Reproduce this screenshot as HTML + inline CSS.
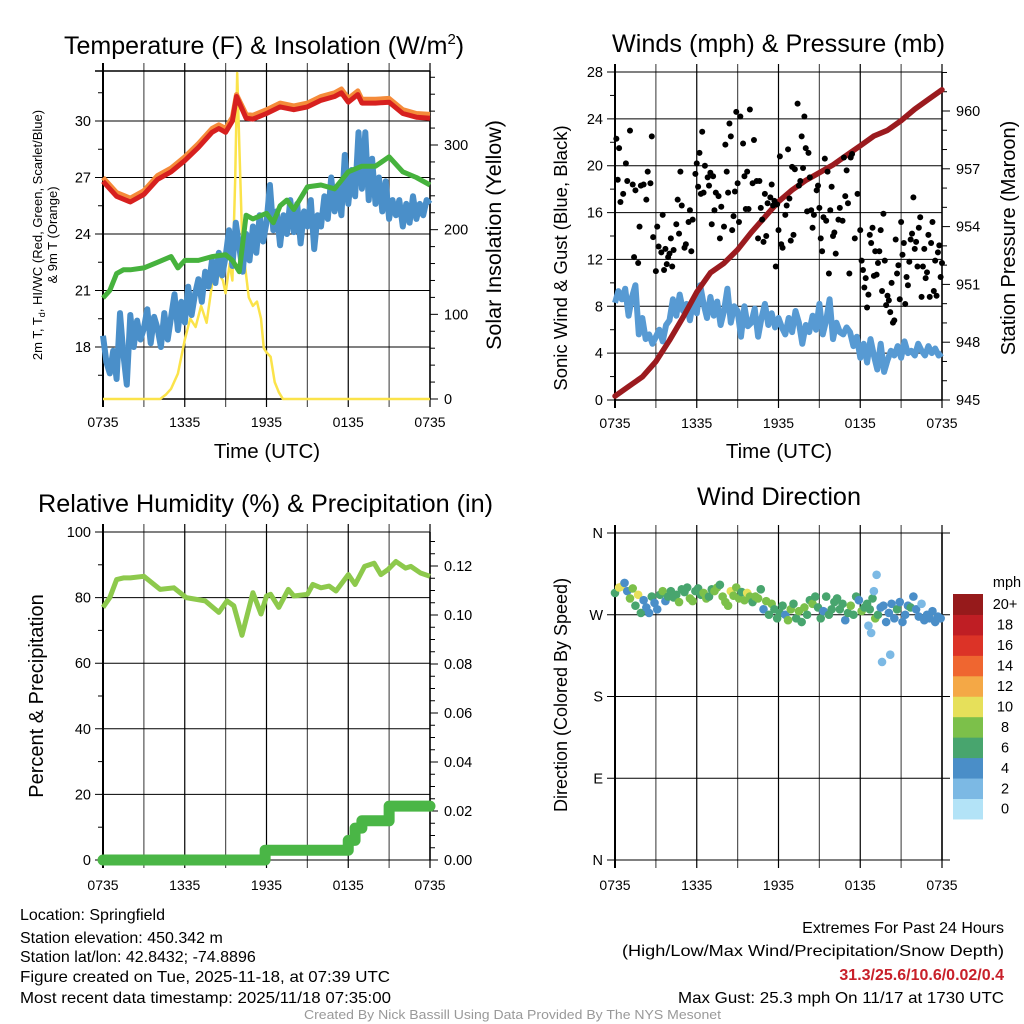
<!DOCTYPE html>
<html><head><meta charset="utf-8">
<style>
html,body{margin:0;padding:0;background:#fff;}
svg{display:block;font-family:"Liberation Sans",sans-serif;}
</style></head>
<body>
<svg id="chart" width="1024" height="1024" viewBox="0 0 1024 1024" xmlns="http://www.w3.org/2000/svg">
<g id="layer"></g>
<g font-size="25" fill="#000">
<text x="64" y="54">Temperature (F) &amp; Insolation (W/m<tspan dy="-10" font-size="15">2</tspan><tspan dy="10">)</tspan></text>
<text x="612" y="52" textLength="333" lengthAdjust="spacingAndGlyphs">Winds (mph) &amp; Pressure (mb)</text>
<text x="38" y="512" textLength="455" lengthAdjust="spacingAndGlyphs">Relative Humidity (%) &amp; Precipitation (in)</text>
<text x="697" y="505" textLength="164" lengthAdjust="spacingAndGlyphs">Wind Direction</text>
</g>
<g fill="#000">
<text x="267" y="458" font-size="20.5" text-anchor="middle">Time (UTC)</text>
<text x="779" y="458" font-size="20.5" text-anchor="middle">Time (UTC)</text>
<text transform="translate(42,235) rotate(-90)" font-size="13" text-anchor="middle">2m T, T<tspan font-size="9" dy="3">d</tspan><tspan dy="-3">, HI/WC (Red, Green, Scarlet/Blue)</tspan></text>
<text transform="translate(57,235) rotate(-90)" font-size="13" text-anchor="middle">&amp; 9m T (Orange)</text>
<text transform="translate(501,235) rotate(-90)" font-size="21.5" text-anchor="middle">Solar Insolation (Yellow)</text>
<text transform="translate(567,258) rotate(-90)" font-size="18.5" text-anchor="middle">Sonic Wind &amp; Gust (Blue, Black)</text>
<text transform="translate(1015,238) rotate(-90)" font-size="20" text-anchor="middle">Station Pressure (Maroon)</text>
<text transform="translate(43,696) rotate(-90)" font-size="20" text-anchor="middle">Percent &amp; Precipitation</text>
<text transform="translate(567,695) rotate(-90)" font-size="18" text-anchor="middle">Direction (Colored By Speed)</text>
</g>
<g font-size="16" fill="#000">
<text x="20" y="920">Location: Springfield</text>
<text x="20" y="943">Station elevation: 450.342 m</text>
<text x="20" y="962">Station lat/lon: 42.8432; -74.8896</text>
<text x="20" y="982" textLength="370" lengthAdjust="spacingAndGlyphs">Figure created on Tue, 2025-11-18, at 07:39 UTC</text>
<text x="20" y="1003" textLength="371" lengthAdjust="spacingAndGlyphs">Most recent data timestamp: 2025/11/18 07:35:00</text>
<g text-anchor="end">
<text x="1004" y="933">Extremes For Past 24 Hours</text>
<text x="622" y="956" text-anchor="start" textLength="382" lengthAdjust="spacingAndGlyphs">(High/Low/Max Wind/Precipitation/Snow Depth)</text>
<text x="1004" y="980" fill="#c8202a" font-weight="bold">31.3/25.6/10.6/0.02/0.4</text>
<text x="678" y="1003" text-anchor="start" textLength="326" lengthAdjust="spacingAndGlyphs">Max Gust: 25.3 mph On 11/17 at 1730 UTC</text>
</g>
<text x="304" y="1019" font-size="12.5" fill="#999" textLength="417" lengthAdjust="spacingAndGlyphs">Created By Nick Bassill Using Data Provided By The NYS Mesonet</text>
</g>
</svg>
<script>
// ---------- data ----------
const timeTickLabels = ["0735","1335","1935","0135","0735"];
const tempHours = [0,1,2,3,4,5,6,7,8,8.5,9,9.5,9.8,10.5,11,12,13,14,15,16,17,17.5,18,18.7,19,20,21,22,23,24];
const tempRed = [26.8,26.0,25.7,26.1,26.9,27.3,27.9,28.6,29.4,29.6,29.4,30.0,31.3,30.15,30.1,30.4,30.75,30.6,30.75,31.1,31.3,31.5,31.0,31.4,30.95,30.95,31.0,30.4,30.2,30.15];
const tempOrange = [27.0,26.2,25.9,26.3,27.1,27.5,28.1,28.8,29.6,29.8,29.6,30.2,31.4,30.35,30.3,30.6,30.95,30.8,30.95,31.3,31.5,31.7,31.2,31.6,31.15,31.15,31.2,30.6,30.4,30.35];
const dewHours = [0,0.5,1,1.5,2,3,4,5,5.5,6,7,8,9,9.5,10,10.5,11,12,12.5,13,13.5,14,15,16,17,18,19,20,21,22,23,24];
const dewVals = [20.6,21.0,21.9,22.1,22.1,22.2,22.5,22.8,22.2,22.6,22.6,22.8,22.9,22.6,22.0,25.0,24.8,25.1,24.6,25.5,25.8,25.3,26.5,26.6,26.4,27.3,27.6,27.6,28.1,27.3,27.0,26.6];
const wcHours = [0,0.25,0.5,0.75,1,1.25,1.5,1.75,2,2.25,2.5,2.75,3,3.25,3.5,3.75,4,4.25,4.5,4.75,5,5.25,5.5,5.75,6,6.25,6.5,6.75,7,7.25,7.5,7.75,8,8.25,8.5,8.75,9,9.25,9.5,9.75,10,10.25,10.5,10.75,11,11.25,11.5,11.75,12,12.25,12.5,12.75,13,13.25,13.5,13.75,14,14.25,14.5,14.75,15,15.25,15.5,15.75,16,16.25,16.5,16.75,17,17.25,17.5,17.75,18,18.25,18.5,18.75,19,19.25,19.5,19.75,20,20.25,20.5,20.75,21,21.25,21.5,21.75,22,22.25,22.5,22.75,23,23.25,23.5,23.75,24];
const wcVals = [18.6,17.2,16.6,17.8,16.3,19.8,17.6,16.0,19.7,18.0,19.4,18.4,19.0,20.0,18.2,19.6,19.0,18.0,19.8,18.4,19.6,20.8,18.9,20.4,19.3,21.2,19.7,20.8,21.6,20.4,22.0,21.2,22.6,21.4,23.0,21.8,22.8,24.2,22.3,24.6,23.3,22.0,24.0,22.6,24.4,23.0,25.0,23.6,24.6,26.6,24.2,25.2,23.4,25.0,24.0,25.8,24.1,25.6,23.5,25.2,24.4,25.8,23.2,25.0,24.4,26.0,24.8,27.0,25.2,26.4,25.0,28.2,25.6,27.4,26.0,29.4,26.4,29.4,25.8,28.0,25.6,27.0,25.2,26.8,24.8,25.8,25.0,25.8,24.4,25.6,24.6,26.0,24.8,25.6,25.0,25.8,25.6];
const solHours = [0,4.2,4.6,5,5.5,6,6.4,6.8,7.2,7.6,8,8.4,8.8,9,9.3,9.5,9.7,9.85,10.0,10.2,10.4,10.7,11,11.3,11.6,11.8,12,12.3,12.6,12.9,13.2,24];
const solVals = [0,0,5,12,30,70,95,85,110,90,135,150,140,125,160,140,260,385,300,195,160,120,110,115,95,60,55,50,20,8,0,0];
const windHours = wcHours;
const windVals = [8.3,9.3,8.6,9.5,7.2,8.8,9.8,5.6,7.0,5.2,5.6,4.8,5.4,6.0,5.0,6.4,6.8,8.6,7.2,9.0,7.6,8.2,6.8,8.5,7.4,9.8,8.2,7.0,8.8,7.2,8.4,6.4,7.6,9.5,6.6,8.0,7.6,5.4,8.0,6.3,6.6,7.8,5.4,7.0,8.2,6.4,7.4,6.2,7.0,6.2,5.6,7.0,5.8,7.6,6.6,4.8,6.4,5.8,7.2,6.0,8.2,5.6,6.8,8.6,5.2,6.6,5.8,5.6,6.2,5.8,4.6,5.4,3.6,4.8,3.2,5.2,3.8,2.6,4.8,2.4,3.4,4.2,3.8,4.6,3.6,5.0,4.0,4.2,3.8,4.8,4.2,3.8,4.6,4.0,4.4,3.8,4.0];
const presHours = [0,1,2,3,4,5,6,7,8,9,10,11,12,13,14,15,16,17,18,19,20,21,22,23,24];
const presVals = [945.2,945.7,946.2,947.0,948.1,949.3,950.6,951.6,952.1,952.8,953.7,954.5,955.3,955.9,956.4,956.8,957.2,957.7,958.2,958.7,959.0,959.5,960.1,960.6,961.1];
const gustHours = [0.1,0.2,0.3,0.4,0.6,0.8,0.9,1.1,1.3,1.4,1.5,1.7,1.8,1.9,2.1,2.3,2.4,2.6,2.7,2.8,3.0,3.1,3.2,3.4,3.5,3.6,3.7,3.8,3.9,4.0,4.1,4.2,4.3,4.5,4.6,4.7,4.8,4.9,5.1,5.2,5.4,5.5,5.6,5.7,5.9,6.0,6.1,6.2,6.3,6.4,6.5,6.6,6.8,6.9,7.0,7.1,7.2,7.3,7.4,7.6,7.7,7.8,8.0,8.1,8.2,8.3,8.4,8.5,8.6,8.7,8.8,8.9,9.0,9.1,9.2,9.4,9.5,9.6,9.7,9.8,9.9,10.1,10.2,10.4,10.5,10.6,10.7,10.8,10.9,11.0,11.1,11.2,11.4,11.5,11.6,11.7,11.8,11.9,12.0,12.1,12.2,12.3,12.5,12.6,12.7,12.8,12.9,13.0,13.1,13.2,13.4,13.5,13.6,13.7,13.8,13.9,14.0,14.1,14.2,14.3,14.4,14.5,14.6,14.8,14.9,15.0,15.1,15.2,15.3,15.4,15.5,15.6,15.7,15.8,15.9,16.0,16.1,16.2,16.4,16.5,16.7,16.8,16.9,17.0,17.1,17.2,17.3,17.4,17.6,17.8,18.0,18.1,18.2,18.3,18.4,18.5,18.6,18.7,18.8,18.9,19.0,19.1,19.2,19.3,19.4,19.5,19.6,19.7,19.8,19.9,20.0,20.1,20.2,20.3,20.4,20.5,20.6,20.7,20.8,20.9,21.0,21.1,21.2,21.3,21.4,21.5,21.6,21.7,21.8,21.9,22.0,22.1,22.2,22.3,22.4,22.5,22.6,22.7,22.8,22.9,23.0,23.1,23.2,23.3,23.4,23.5,23.6,23.7,23.8,23.9,24.0];
const gustVals = [22.3,18.8,21.5,16.9,17.6,20.2,18.7,23.0,18.4,12.2,17.9,11.7,14.8,18.3,18.4,17.1,19.5,18.5,22.5,13.9,11.0,14.8,13.1,12.6,15.8,11.1,12.9,11.6,12.2,12.5,13.8,11.4,12.8,15.0,17.1,14.2,19.5,16.6,13.0,13.3,15.2,16.2,12.7,15.4,19.3,20.2,18.2,21.1,17.6,22.9,17.7,20.0,19.0,18.3,19.4,15.0,19.1,16.2,17.7,17.4,13.8,16.5,14.8,21.8,19.5,17.7,23.6,22.5,14.5,15.7,17.8,24.6,18.5,15.2,24.2,21.9,19.1,16.3,19.5,16.3,24.8,18.5,22.2,18.7,13.8,18.7,16.4,15.4,13.5,17.6,14.0,16.8,17.3,18.4,16.6,17.0,11.4,16.7,14.5,20.8,13.3,13.0,15.8,16.6,21.4,17.2,13.6,19.9,14.1,19.7,25.3,18.3,18.7,22.5,19.8,24.2,21.5,16.1,21.1,19.0,16.2,14.7,15.8,17.9,18.3,16.4,13.8,12.7,15.6,20.6,15.3,19.5,10.8,16.2,18.2,14.0,14.3,12.5,15.4,16.4,15.3,20.7,17.4,19.6,16.8,10.8,20.7,21.0,13.8,17.6,14.5,11.9,11.1,9.6,10.4,7.9,9.0,14.1,13.4,14.7,10.6,12.7,10.7,11.7,12.7,14.5,9.3,15.9,11.9,8.1,8.9,8.5,7.5,10.0,6.6,6.8,13.7,10.8,11.5,8.6,15.2,12.4,13.4,8.2,10.5,9.8,11.8,13.7,14.2,17.3,12.9,13.5,11.4,14.7,15.6,8.8,11.4,12.9,10.4,10.9,14.1,8.8,13.4,15.2,9.3,11.9,8.9,12.6,13.2,10.5,11.7];
const dirHours = [0,0.3,0.5,0.7,0.9,1.1,1.3,1.5,1.7,1.9,2.1,2.3,2.5,2.7,2.9,3.1,3.3,3.5,3.7,3.9,4.1,4.3,4.5,4.7,4.9,5.1,5.3,5.5,5.7,5.9,6.1,6.3,6.5,6.7,6.9,7.1,7.3,7.5,7.7,7.9,8.1,8.3,8.5,8.7,8.9,9.1,9.3,9.5,9.7,9.9,10.1,10.3,10.5,10.7,10.9,11.1,11.3,11.5,11.7,11.9,12.1,12.3,12.5,12.7,12.9,13.1,13.3,13.5,13.7,13.9,14.1,14.3,14.5,14.7,14.9,15.1,15.3,15.5,15.7,15.9,16.1,16.3,16.5,16.7,16.9,17.1,17.3,17.5,17.7,17.9,18.1,18.3,18.5,18.7,18.9,19.1,19.3,19.5,19.7,19.9,20.1,20.3,20.5,20.7,20.9,21.1,21.3,21.5,21.7,21.9,22.1,22.3,22.5,22.7,22.9,23.1,23.3,23.5,23.7,23.9,18.6,18.8,19.2,19.6,20.2,19.0];
const dirDeg = [294,300,301,305,296,288,299,280,292,272,286,278,272,290,283,276,292,296,285,290,296,289,292,284,298,295,300,288,285,296,299,292,294,288,290,298,296,300,303,290,284,280,296,291,300,288,295,286,294,290,284,290,288,298,276,285,270,282,276,266,272,280,270,264,276,282,266,274,262,278,270,286,282,290,278,266,274,290,270,276,284,288,276,282,264,272,280,270,290,286,274,278,282,276,288,266,270,278,280,262,272,282,266,276,284,262,270,280,278,290,276,268,282,264,270,266,274,262,268,266,258,250,314,218,226,296];
const dirSpeed = [6,10,10,4,4,8,9,6,10,6,4,4,4,6,4,4,6,8,4,6,6,6,6,8,6,6,6,8,8,6,6,6,8,8,6,6,8,8,6,8,8,8,10,8,8,8,6,8,10,8,6,8,8,6,4,8,6,8,6,6,6,6,4,8,8,6,6,8,6,8,6,6,8,6,6,6,4,6,6,6,6,6,6,6,4,6,8,6,6,4,8,6,6,6,6,8,6,4,4,4,4,4,4,6,4,4,4,4,6,4,4,4,2,4,4,4,4,4,4,4,2,2,2,2,2,2];
const rhHours = [0,0.5,1,1.5,2,3,4.2,5.2,6.1,7.5,8.5,9.1,9.6,10.2,11.0,11.6,12,12.3,12.9,13.6,14,15,15.4,16,16.6,17.1,18,18.5,19.2,19.9,20.4,20.9,21.5,22.2,22.6,23.3,24];
const rhVals = [77,80,85.5,86,86,86.5,82.5,83,80,79,75.5,79,77.5,68.5,81.5,75,80.5,81,77,82.5,80.5,81,84,83,83.5,82,87,84,89.5,90.5,87,88.5,91,89,89.5,87.5,86.5];
const precipHours = [0,11.9,18.0,18.5,19.0,21.0,24];
const precipVals = [0,0.004,0.008,0.013,0.016,0.022,0.022];
const speedBins = ["0","2","4","6","8","10","12","14","16","18","20+"];
const speedColors = ["#b3e3f7","#7cb9e4","#4a8ec8","#48a56e","#7cc04a","#e6e05a","#f4a846","#ef6630","#dc3327","#bf1e24","#961a1b"];
const tempTicks = [18,21,24,27,30];
const solTicks = [0,100,200,300];
const windTicks = [0,4,8,12,16,20,24,28];
const presTicks = [945,948,951,954,957,960];
const rhTicks = [0,20,40,60,80,100];
const precipTicks = [0,0.02,0.04,0.06,0.08,0.10,0.12];
const dirTicks = [0,90,180,270,360];
const dirLabels = ["N","E","S","W","N"];

// ---------- helpers ----------
const NS = "http://www.w3.org/2000/svg";
const layer = document.getElementById("layer");
function mk(tag, attrs, parent){ const e=document.createElementNS(NS,tag); for(const k in attrs) e.setAttribute(k,attrs[k]); (parent||layer).appendChild(e); return e; }
function lin(d0,d1,r0,r1){ return v => r0 + (v-d0)*(r1-r0)/(d1-d0); }
function pathD(xs,ys,fx,fy){ return xs.map((h,i)=>(i?"L":"M")+fx(h).toFixed(1)+","+fy(ys[i]).toFixed(1)).join(""); }
function stepD(xs,ys,fx,fy){ let d=""; xs.forEach((h,i)=>{ if(i===0) d+="M"+fx(h)+","+fy(ys[i]); else { d+="L"+fx(h)+","+fy(ys[i-1])+"L"+fx(h)+","+fy(ys[i]); } }); return d; }

function frame(name, L, R, T, B, labOff){
  const g = mk("g",{});
  
  
  const fx = lin(0,24,L,R);
  for(let h=0; h<=24; h+=3){
    const x=fx(h);
    const ln = mk("line",{x1:x,y1:T-8,x2:x,y2:B+8,stroke:(h%6===0)?"#000":"#555","stroke-width":(h===0?2:1.2)},g);
    
    
  }
  timeTickLabels.forEach((lab,i)=>{
    const t = mk("text",{x:fx(i*6),y:B+labOff,"font-size":14,"text-anchor":"middle"},g);
    t.textContent = lab;
    
    
  });
  mk("line",{x1:R,y1:T,x2:R,y2:B,stroke:"#000","stroke-width":1.5},g);
  return {g,fx};
}
function yAxis(g, ticks, fy, L, R, labels, side, fmt, grid){
  ticks.forEach((v,i)=>{
    const y=fy(v);
    if(grid){ const gl=mk("line",{x1:L-8,y1:y,x2:R+ (side==="left"?0:8),y2:y,stroke:"#000","stroke-width":1},g);
      
       }
    else { mk("line",{x1:R,y1:y,x2:R+8,y2:y,stroke:"#000","stroke-width":1},g); }
    const t=mk("text",{x:side==="left"?L-12:R+12,y:y+5,"font-size":14.5,"text-anchor":side==="left"?"end":"start"},g);
    t.textContent = labels ? labels[i] : fmt(v);
    
    
  });
}

// ---------- Panel 1: temperature ----------
(function(){
  const L=103,R=430,T=71,B=399;
  const {g,fx}=frame("temperature",L,R,T,B,28);
  const fy=lin(30,18,121,347);
  const fs=lin(0,300,399,145);
  yAxis(g,tempTicks,fy,L,R,null,"left",v=>v,true);
  mk("line",{x1:L-8,y1:T,x2:R,y2:T,stroke:"#000","stroke-width":1.5},g);
  mk("line",{x1:L,y1:B,x2:R,y2:B,stroke:"#000","stroke-width":1.5},g);
  for(let v=16.5; v<33; v+=3){ if(fy(v)>T && fy(v)<B) mk("line",{x1:L-5,y1:fy(v),x2:L,y2:fy(v),stroke:"#000"},g); }
  for(let v=0; v<=380; v+=20){ mk("line",{x1:R,y1:fs(v),x2:R+(v%100===0?8:5),y2:fs(v),stroke:"#000"},g); }
  solTicks.forEach(v=>{ const t=mk("text",{x:R+14,y:fs(v)+5,"font-size":14.5},g); t.textContent=v;
      });
  const s=mk("path",{d:pathD(solHours,solVals,fx,fs),fill:"none",stroke:"#fbe34a","stroke-width":2.5,"stroke-linejoin":"round"});
   
  const b=mk("path",{d:pathD(wcHours,wcVals,fx,fy),fill:"none",stroke:"#4a8fc9","stroke-width":6,"stroke-linejoin":"round"});
   
  const gr=mk("path",{d:pathD(dewHours,dewVals,fx,fy),fill:"none",stroke:"#46b23d","stroke-width":5,"stroke-linejoin":"round"});
   
  const o=mk("path",{d:pathD(tempHours,tempOrange,fx,fy),fill:"none",stroke:"#f58b3a","stroke-width":5,"stroke-linejoin":"round"});
   
  const r=mk("path",{d:pathD(tempHours,tempRed,fx,fy),fill:"none",stroke:"#d7201f","stroke-width":5,"stroke-linejoin":"round"});
   
  mk("line",{x1:L,y1:T,x2:L,y2:B,stroke:"#000","stroke-width":2},g);
})();

// ---------- Panel 2: winds ----------
(function(){
  const L=615,R=942,T=72,B=400;
  const {g,fx}=frame("winds",L,R,T,B,28);
  const fy=lin(0,28,400,72);
  const fp=lin(945,960,400,111);
  yAxis(g,windTicks,fy,L,R,null,"left",v=>v,true);
  mk("line",{x1:L,y1:B,x2:R,y2:B,stroke:"#000","stroke-width":1.5},g);
  for(let v=2; v<28; v+=4) mk("line",{x1:L-5,y1:fy(v),x2:L,y2:fy(v),stroke:"#000"},g);
  for(let v=945; v<=962; v+=1) mk("line",{x1:R,y1:fp(v),x2:R+(v%3===0?8:5),y2:fp(v),stroke:"#000"},g);
  presTicks.forEach(v=>{ const t=mk("text",{x:R+14,y:fp(v)+5,"font-size":14.5},g); t.textContent=v;
      });
  const w=mk("path",{d:pathD(windHours,windVals,fx,fy),fill:"none",stroke:"#579ad3","stroke-width":6,"stroke-linejoin":"round"});
   
  const p=mk("path",{d:pathD(presHours,presVals,fx,fp),fill:"none",stroke:"#9b1b1f","stroke-width":5.5,"stroke-linecap":"round","stroke-linejoin":"round"});
   
  gustHours.forEach((h,i)=>{
    const c=mk("circle",{cx:fx(h),cy:fy(gustVals[i]),r:3,fill:"#000"});
    
    
  });
  mk("line",{x1:L,y1:T,x2:L,y2:B,stroke:"#000","stroke-width":2},g);
})();

// ---------- Panel 3: humidity ----------
(function(){
  const L=103,R=430,T=532,B=860;
  const {g,fx}=frame("humidity",L,R,T,B,30);
  const fy=lin(0,100,860,532);
  const fq=lin(0,0.12,860,566);
  yAxis(g,rhTicks,fy,L,R,null,"left",v=>v,true);
  for(let v=10; v<100; v+=20) mk("line",{x1:L-5,y1:fy(v),x2:L,y2:fy(v),stroke:"#000"},g);
  for(let v=0; v<=0.132; v+=0.005) mk("line",{x1:R,y1:fq(v),x2:R+5,y2:fq(v),stroke:"#000"},g);
  precipTicks.forEach(v=>{ mk("line",{x1:R,y1:fq(v),x2:R+8,y2:fq(v),stroke:"#000"},g);
    const t=mk("text",{x:R+14,y:fq(v)+5,"font-size":14.5},g); t.textContent=v.toFixed(2);
      });
  const rh=mk("path",{d:pathD(rhHours,rhVals,fx,fy),fill:"none",stroke:"#8dc94c","stroke-width":5,"stroke-linejoin":"round"});
   
  const pr=mk("path",{d:stepD(precipHours,precipVals,fx,fq),fill:"none",stroke:"#4ab646","stroke-width":11,"stroke-linecap":"round","stroke-linejoin":"round"});
   
  mk("line",{x1:L,y1:T,x2:L,y2:B,stroke:"#000","stroke-width":2},g);
})();

// ---------- Panel 4: direction ----------
(function(){
  const L=615,R=942,T=533,B=860;
  const {g,fx}=frame("direction",L,R,T,B,30);
  const fy=lin(0,360,860,533);
  yAxis(g,dirTicks,fy,L,R+8,dirLabels,"left",null,true);
  dirHours.forEach((h,i)=>{
    const bin=Math.min(10,Math.max(0,Math.floor(dirSpeed[i]/2)));
    const c=mk("circle",{cx:fx(h),cy:fy(dirDeg[i]),r:4.3,fill:speedColors[bin]});
    
    
  });
  mk("line",{x1:L,y1:T-8,x2:L,y2:B+8,stroke:"#000","stroke-width":2},g);
  const lg=mk("g",{});
  
  
  const bh=20.45;
  speedColors.forEach((c,i)=>{
    const y=594+(10-i)*bh;
    const r=mk("rect",{x:953,y:y,width:30,height:bh+0.5,fill:c},lg);
    
    
    const t=mk("text",{x:1005,y:y+bh/2+5,"font-size":14.5,"text-anchor":"middle"},lg);
    t.textContent=speedBins[i];
    
    
  });
  const u=mk("text",{x:1007,y:587,"font-size":14.5,"text-anchor":"middle"},lg);
  u.textContent="mph";
  
  
})();
</script>
</body></html>
